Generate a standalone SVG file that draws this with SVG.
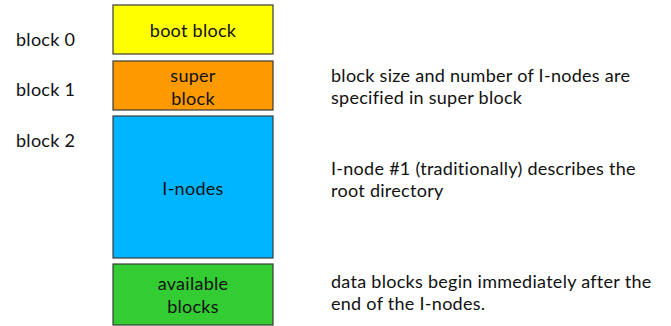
<svg xmlns="http://www.w3.org/2000/svg" width="671" height="326" viewBox="0 0 671 326">
<style>
.box{stroke:#3a3a3a;stroke-width:1.2}
text{font-family:Lato,"Open Sans",sans-serif;font-size:18px;letter-spacing:0.28px;fill:#111}
.c{text-anchor:middle}
</style>
<rect width="671" height="326" fill="#fff"/>
<g id="boot"><rect class="box" x="113" y="5" width="160" height="49" fill="#FFFF00"/><text class="c" x="193" y="37">boot block</text></g>
<g id="super"><rect class="box" x="113" y="61" width="160" height="49" fill="#FF9900"/><text class="c" x="193" y="82">super</text><text class="c" x="193" y="105">block</text></g>
<g id="inodes"><rect class="box" x="113" y="116" width="160" height="142" fill="#00B5FF"/><text class="c" x="193" y="195">I-nodes</text></g>
<g id="avail"><rect class="box" x="113" y="264" width="160" height="61" fill="#33CC33"/><text class="c" x="193" y="290">available</text><text class="c" x="193" y="313">blocks</text></g>
<g id="labels">
<text x="16" y="46">block 0</text>
<text x="16" y="96">block 1</text>
<text x="16" y="147">block 2</text>
<text x="331" y="82">block size and number of I-nodes are</text>
<text x="331" y="104">specified in super block</text>
<text x="331" y="175">I-node #1 (traditionally) describes the</text>
<text x="331" y="197">root directory</text>
<text x="331" y="288">data blocks begin immediately after the</text>
<text x="331" y="310">end of the I-nodes.</text>
</g>
<g id="connectors"/>
</svg>
